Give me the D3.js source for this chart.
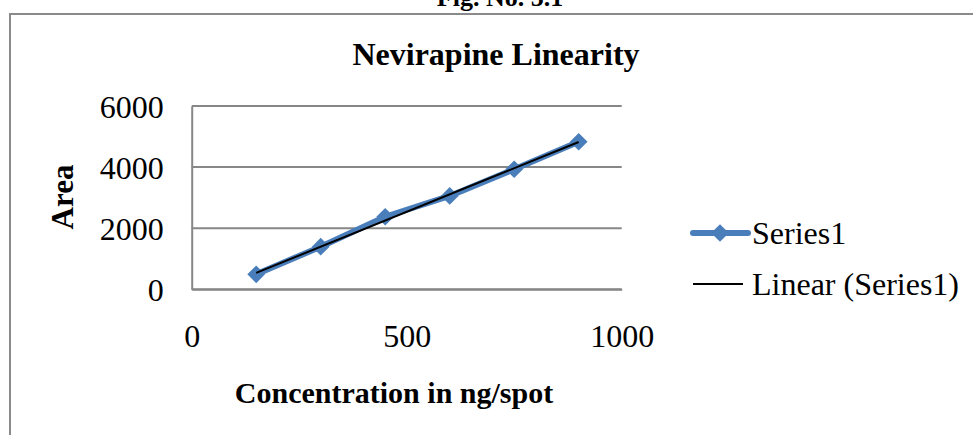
<!DOCTYPE html>
<html>
<head>
<meta charset="utf-8">
<script src="https://cdn.jsdelivr.net/npm/d3@7"></script>
<style>
  body { margin: 0; background: #fff; }
  svg { display: block; font-family: "Liberation Serif", "Times New Roman", serif; }
</style>
</head>
<body>
<div class="board"></div>
<script>
var conc = [150, 300, 450, 600, 750, 900];
var area = [490, 1395, 2375, 3055, 3930, 4830];
var xTicks = [0, 500, 1000];
var yTicks = [0, 2000, 4000, 6000];

var W = 973, H = 435;
var plot = { left: 191.7, right: 621.7, top: 106, bottom: 289.3 };
var blue = '#4a7ebb';
var grey = '#878787';

var svg = d3.select('.board').append('svg')
            .attr('width', W)
            .attr('height', H);

// outer frame (only top and left are visible in the picture)
svg.append('path')
   .attr('d', 'M10,' + H + ' L10,14 L' + W + ',14')
   .attr('fill', 'none')
   .attr('stroke', '#8a8a8a')
   .attr('stroke-width', 2);

// caption is cut by the top edge in the original too
svg.append('text')
   .attr('x', 500).attr('y', 6)
   .attr('text-anchor', 'middle')
   .style('font-weight', 'bold').style('font-size', '26px')
   .text('Fig. No. 5.1');

svg.append('text')
   .attr('x', 496).attr('y', 65)
   .attr('text-anchor', 'middle')
   .style('font-weight', 'bold').style('font-size', '32px')
   .text('Nevirapine Linearity');

var x = d3.scaleLinear().domain([0, 1000]).range([plot.left, plot.right]);
var y = d3.scaleLinear().domain([0, 6000]).range([plot.bottom, plot.top]);

// gridlines
svg.append('g').selectAll('line')
   .data(yTicks)
   .enter().append('line')
   .attr('x1', plot.left).attr('x2', plot.right)
   .attr('y1', function(d) { return y(d) }).attr('y2', function(d) { return y(d) })
   .attr('stroke', grey).attr('stroke-width', 2);

// y axis
var yAxis = svg.append('g')
   .attr('transform', 'translate(' + plot.left + ',0)')
   .call(d3.axisLeft(y).tickValues(yTicks).tickFormat(d3.format('d')).tickSize(0).tickPadding(28));
yAxis.select('.domain').attr('stroke', grey).attr('stroke-width', 2);
yAxis.selectAll('text')
   .style('font-family', '"Liberation Serif", serif')
   .style('font-size', '32px').attr('fill', '#000').attr('dy', '0.36em');

// x axis
var xAxis = svg.append('g')
   .attr('transform', 'translate(0,' + plot.bottom + ')')
   .call(d3.axisBottom(x).tickValues(xTicks).tickFormat(d3.format('d')).tickSize(0).tickPadding(35));
xAxis.select('.domain').attr('stroke', grey).attr('stroke-width', 2);
xAxis.selectAll('text')
   .style('font-family', '"Liberation Serif", serif')
   .style('font-size', '32px').attr('fill', '#000').attr('dy', '0.71em');

svg.append('text')
   .attr('x', 394).attr('y', 403)
   .attr('text-anchor', 'middle')
   .style('font-weight', 'bold').style('font-size', '30px')
   .text('Concentration in ng/spot');

svg.append('text')
   .attr('transform', 'translate(73,197) rotate(-90)')
   .attr('text-anchor', 'middle')
   .style('font-weight', 'bold').style('font-size', '31px')
   .text('Area');

var pts = conc.map(function(c, i) { return { x: c, y: area[i] } });

// series line
svg.append('path')
   .datum(pts)
   .attr('d', d3.line().x(function(d) { return x(d.x) }).y(function(d) { return y(d.y) }))
   .attr('fill', 'none').attr('stroke', blue).attr('stroke-width', 6)
   .attr('stroke-linejoin', 'round');

var diamond = d3.symbol().type(d3.symbolDiamond2).size(200);
svg.append('g').selectAll('path')
   .data(pts)
   .enter().append('path')
   .attr('d', diamond)
   .attr('transform', function(d) { return 'translate(' + x(d.x) + ',' + y(d.y) + ')' })
   .attr('fill', blue);

// least squares trendline
var mx = d3.mean(conc), my = d3.mean(area);
var sxy = d3.sum(conc, function(c, i) { return (c - mx) * (area[i] - my) });
var sxx = d3.sum(conc, function(c) { return (c - mx) * (c - mx) });
var slope = sxy / sxx, icpt = my - slope * mx;
var x0 = d3.min(conc), x1 = d3.max(conc);
svg.append('line')
   .attr('x1', x(x0)).attr('y1', y(icpt + slope * x0))
   .attr('x2', x(x1)).attr('y2', y(icpt + slope * x1))
   .attr('stroke', '#000').attr('stroke-width', 2);

// legend
var lg = svg.append('g');
lg.append('line').attr('x1', 693).attr('x2', 748).attr('y1', 233).attr('y2', 233)
  .attr('stroke', blue).attr('stroke-width', 6).attr('stroke-linecap', 'round');
lg.append('path').attr('d', diamond).attr('transform', 'translate(720,233)').attr('fill', blue);
lg.append('text').attr('x', 752).attr('y', 244)
  .style('font-size', '32px').text('Series1');
lg.append('line').attr('x1', 693).attr('x2', 743).attr('y1', 284).attr('y2', 284)
  .attr('stroke', '#000').attr('stroke-width', 2);
lg.append('text').attr('x', 752).attr('y', 295)
  .style('font-size', '32px').text('Linear (Series1)');
</script>
</body>
</html>
